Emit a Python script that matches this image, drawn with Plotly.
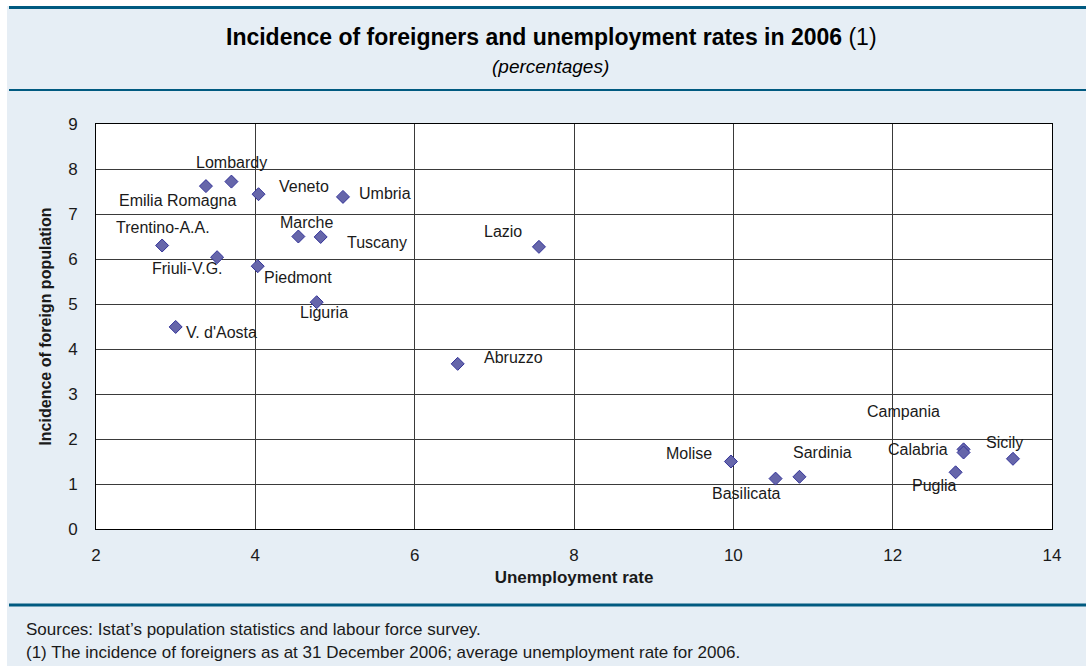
import plotly.graph_objects as go

# Regional data, 2006
regions = ["Lombardy", "Emilia Romagna", "Veneto", "Umbria", "Trentino-A.A.", "Marche",
           "Tuscany", "Friuli-V.G.", "Piedmont", "Liguria", "V. d'Aosta", "Lazio",
           "Abruzzo", "Molise", "Basilicata", "Sardinia", "Calabria", "Campania",
           "Puglia", "Sicily"]
unemployment = [3.70, 3.38, 4.04, 5.10, 2.83, 4.54, 4.82, 3.52, 4.03, 4.77, 3.00, 7.56,
                6.54, 9.97, 10.53, 10.83, 12.89, 12.89, 12.79, 13.51]
foreigners = [7.72, 7.62, 7.44, 7.38, 6.30, 6.50, 6.49, 6.04, 5.84, 5.04, 4.49, 6.27,
              3.67, 1.50, 1.12, 1.16, 1.77, 1.70, 1.26, 1.56]

x_ticks = [2, 4, 6, 8, 10, 12, 14]
y_ticks = [0, 1, 2, 3, 4, 5, 6, 7, 8, 9]

# Label offsets from each marker, in screen pixels (dx right, dy down)
label_offsets = {
    "Lombardy": (0, -19), "Emilia Romagna": (-28, 14), "Veneto": (45, -8),
    "Umbria": (42, -3), "Trentino-A.A.": (1, -18), "Marche": (8, -14),
    "Tuscany": (56, 6), "Friuli-V.G.": (-30, 11), "Piedmont": (40, 11),
    "Liguria": (7, 10), "V. d'Aosta": (46, 6), "Lazio": (-36, -15),
    "Abruzzo": (56, -6), "Molise": (-42, -8), "Basilicata": (-29, 15),
    "Sardinia": (23, -24), "Calabria": (-46, 0), "Campania": (-60, -41),
    "Puglia": (-21, 13), "Sicily": (-8, -16),
}

W, H = 1086, 666
L, R, T, B = 96, 34, 124, 137
PW, PH = W - L - R, H - T - B

def px(x):
    return (x - L) / PW

def py(y):
    return (H - B - y) / PH

BG = "#e6eef5"
RULE = "#005a80"
FONT = "Arial, Liberation Sans, sans-serif"
TXT = "#1a1a1a"

fig = go.Figure()
fig.add_trace(go.Scatter(
    x=unemployment, y=foreigners, mode="markers",
    marker=dict(symbol="diamond", size=10, color="#6666aa",
                line=dict(color="#333399", width=1)),
    hoverinfo="text", text=regions, showlegend=False,
))

annotations = []
for name, ux, fy in zip(regions, unemployment, foreigners):
    dx, dy = label_offsets[name]
    annotations.append(dict(
        x=ux, y=fy, xref="x", yref="y", text=name, showarrow=False,
        xshift=dx, yshift=-dy, xanchor="center", yanchor="middle",
        font=dict(family=FONT, size=16, color=TXT),
    ))

annotations += [
    dict(x=px(551), y=py(37), xref="paper", yref="paper", showarrow=False,
         text="<b>Incidence of foreigners and unemployment rates in 2006</b> (1)",
         xanchor="center", yanchor="middle",
         font=dict(family=FONT, size=23, color="#000000")),
    dict(x=px(550), y=py(67), xref="paper", yref="paper", showarrow=False,
         text="<i>(percentages)</i>", xanchor="center", yanchor="middle",
         font=dict(family=FONT, size=19, color="#000000")),
    dict(x=px(24), y=py(629), xref="paper", yref="paper", showarrow=False,
         text="Sources: Istat\u2019s population statistics and labour force survey.",
         xanchor="left", yanchor="middle",
         font=dict(family=FONT, size=17, color=TXT)),
    dict(x=px(24), y=py(652), xref="paper", yref="paper", showarrow=False,
         text="(1) The incidence of foreigners as at 31 December 2006; average unemployment rate for 2006.",
         xanchor="left", yanchor="middle",
         font=dict(family=FONT, size=17, color=TXT)),
]

shapes = [
    # white outer strips
    dict(type="rect", xref="paper", yref="paper", x0=px(0), x1=px(7), y0=py(0), y1=py(H),
         fillcolor="white", line=dict(width=0), layer="below"),
    dict(type="rect", xref="paper", yref="paper", x0=px(0), x1=px(W), y0=py(0), y1=py(6),
         fillcolor="white", line=dict(width=0), layer="below"),
    # horizontal rules
    dict(type="line", xref="paper", yref="paper", x0=px(9), x1=px(W), y0=py(7.5), y1=py(7.5),
         line=dict(color=RULE, width=3)),
    dict(type="line", xref="paper", yref="paper", x0=px(9), x1=px(W), y0=py(90), y1=py(90),
         line=dict(color=RULE, width=2)),
    dict(type="line", xref="paper", yref="paper", x0=px(9), x1=px(W), y0=py(605), y1=py(605),
         line=dict(color=RULE, width=3)),
]

fig.update_layout(
    width=W, height=H,
    margin=dict(l=L, r=R, t=T, b=B),
    paper_bgcolor=BG, plot_bgcolor="white",
    font=dict(family=FONT, color=TXT),
    annotations=annotations, shapes=shapes,
    xaxis=dict(range=[2, 14], tickvals=x_ticks, showgrid=True, gridcolor="#3a3a3a",
               gridwidth=1, zeroline=False, showline=True, linecolor="#000000",
               linewidth=1, mirror=True, ticks="", ticklabelstandoff=11,
               tickfont=dict(size=17, family=FONT, color=TXT),
               title=dict(text="<b>Unemployment rate</b>", standoff=6,
                          font=dict(size=17, family=FONT, color=TXT))),
    yaxis=dict(range=[0, 9], tickvals=y_ticks, showgrid=True, gridcolor="#3a3a3a",
               gridwidth=1, zeroline=False, showline=True, linecolor="#000000",
               linewidth=1, mirror=True, ticks="", ticklabelstandoff=14,
               tickfont=dict(size=17, family=FONT, color=TXT),
               title=dict(text="<b>Incidence of foreign population</b>", standoff=12,
                          font=dict(size=16, family=FONT, color=TXT))),
)

fig.write_html("out.html")
